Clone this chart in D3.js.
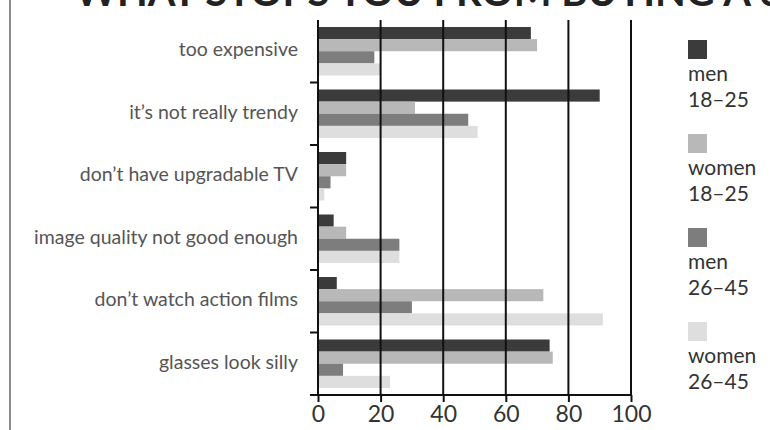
<!DOCTYPE html>
<html>
<head>
<meta charset="utf-8">
<script src="https://cdn.jsdelivr.net/npm/d3@7"></script>
<style>
  body { margin: 0; background: #fff; }
  svg { display: block; font-family: Lato, 'Open Sans', sans-serif; }
  .tick text { fill: #333; }
</style>
</head>
<body>
<svg width="770" height="430"></svg>
<script>
// chart data
const categories = [
  'too expensive',
  'it\u2019s not really trendy',
  'don\u2019t have upgradable TV',
  'image quality not good enough',
  'don\u2019t watch action films',
  'glasses look silly'
];
const seriesNames = ['men 18\u201325', 'women 18\u201325', 'men 26\u201345', 'women 26\u201345'];
const men1825   = [68, 90, 9, 5, 6, 74];
const women1825 = [70, 31, 9, 9, 72, 75];
const men2645   = [18, 48, 4, 26, 30, 8];
const women2645 = [20, 51, 2, 26, 91, 23];
const xTicks = [0, 20, 40, 60, 80, 100];
const title = 'WHAT STOPS YOU FROM BUYING A 3D TV?';

(function (d3) {
  'use strict';

  const svg = d3.select('svg');
  const width = +svg.attr('width');
  const height = +svg.attr('height');

  const colors = ['#3b3b3b', '#b8b8b8', '#7d7d7d', '#dedede'];
  const seriesValues = [men1825, women1825, men2645, women2645];

  const margin = { top: 20, right: 139, bottom: 35, left: 318 };
  const innerWidth = width - margin.left - margin.right;
  const innerHeight = height - margin.top - margin.bottom;

  // flatten into rows for the data join
  const rows = [];
  categories.forEach((c, i) => {
    seriesNames.forEach((s, j) => {
      rows.push({ category: c, series: s, value: seriesValues[j][i] });
    });
  });

  const xScale = d3.scaleLinear()
    .domain([0, 100])
    .range([0, innerWidth]);

  const yScale = d3.scaleBand()
    .domain(categories)
    .range([0, innerHeight]);

  const ySub = d3.scaleBand()
    .domain(seriesNames)
    .range([7, yScale.bandwidth() - 7]);

  const colorScale = d3.scaleOrdinal().domain(seriesNames).range(colors);

  // left border line
  svg.append('line')
    .attr('x1', 10).attr('x2', 10)
    .attr('y1', 0).attr('y2', height)
    .attr('stroke', '#666')
    .attr('stroke-width', 1.5);

  // title, cropped by the top edge like the source image
  svg.append('text')
    .attr('x', 75)
    .attr('y', 6)
    .attr('font-size', 40)
    .attr('font-weight', 'bold')
    .attr('fill', '#222')
    .text(title);

  const g = svg.append('g')
    .attr('transform', `translate(${margin.left},${margin.top})`);

  // bars
  g.selectAll('rect.bar').data(rows)
    .enter().append('rect')
      .attr('class', 'bar')
      .attr('x', 0)
      .attr('y', d => yScale(d.category) + ySub(d.series))
      .attr('width', d => xScale(d.value))
      .attr('height', ySub.bandwidth())
      .attr('fill', d => colorScale(d.series));

  // vertical grid lines on top of bars
  g.selectAll('line.grid').data(xTicks.slice(1))
    .enter().append('line')
      .attr('class', 'grid')
      .attr('x1', d => xScale(d)).attr('x2', d => xScale(d))
      .attr('y1', 0).attr('y2', innerHeight)
      .attr('stroke', '#111')
      .attr('stroke-width', 2);

  // x axis
  const xAxis = d3.axisBottom(xScale)
    .tickValues(xTicks)
    .tickSize(7)
    .tickPadding(4);
  const xAxisG = g.append('g')
    .attr('transform', `translate(0,${innerHeight})`)
    .call(xAxis);
  xAxisG.select('.domain')
    .attr('d', `M-8,0H${innerWidth}`)
    .attr('stroke', '#111')
    .attr('stroke-width', 2);
  xAxisG.selectAll('.tick line').attr('stroke', '#111').attr('stroke-width', 2);
  xAxisG.selectAll('.tick text').attr('font-size', 23).attr('font-family', 'Lato, sans-serif');

  // y axis: ticks between bands
  const yAxisG = g.append('g');
  yAxisG.append('line')
    .attr('x1', 0).attr('x2', 0)
    .attr('y1', 0).attr('y2', innerHeight)
    .attr('stroke', '#111')
    .attr('stroke-width', 2);
  yAxisG.selectAll('line.ytick').data(categories)
    .enter().append('line')
      .attr('class', 'ytick')
      .attr('x1', -8).attr('x2', 0)
      .attr('y1', d => yScale(d) + yScale.bandwidth())
      .attr('y2', d => yScale(d) + yScale.bandwidth())
      .attr('stroke', '#111')
      .attr('stroke-width', 2);
  yAxisG.selectAll('text.ylabel').data(categories)
    .enter().append('text')
      .attr('class', 'ylabel')
      .attr('x', -20)
      .attr('y', d => yScale(d) + yScale.bandwidth() / 2 - 2)
      .attr('dy', '0.35em')
      .attr('text-anchor', 'end')
      .attr('font-size', 19.5)
      .attr('fill', '#555')
      .text(d => d);

  // legend
  const legend = svg.append('g')
    .attr('transform', 'translate(688,40)');
  const item = legend.selectAll('g').data(seriesNames)
    .enter().append('g')
      .attr('transform', (d, i) => `translate(0,${i * 94})`);
  item.append('rect')
    .attr('width', 19).attr('height', 19)
    .attr('fill', d => colorScale(d));
  item.append('text')
    .attr('y', 41)
    .attr('font-size', 21)
    .attr('fill', '#333')
    .text(d => d.split(' ')[0]);
  item.append('text')
    .attr('y', 67)
    .attr('font-size', 21)
    .attr('fill', '#333')
    .text(d => d.split(' ')[1]);

}(d3));
</script>
</body>
</html>
